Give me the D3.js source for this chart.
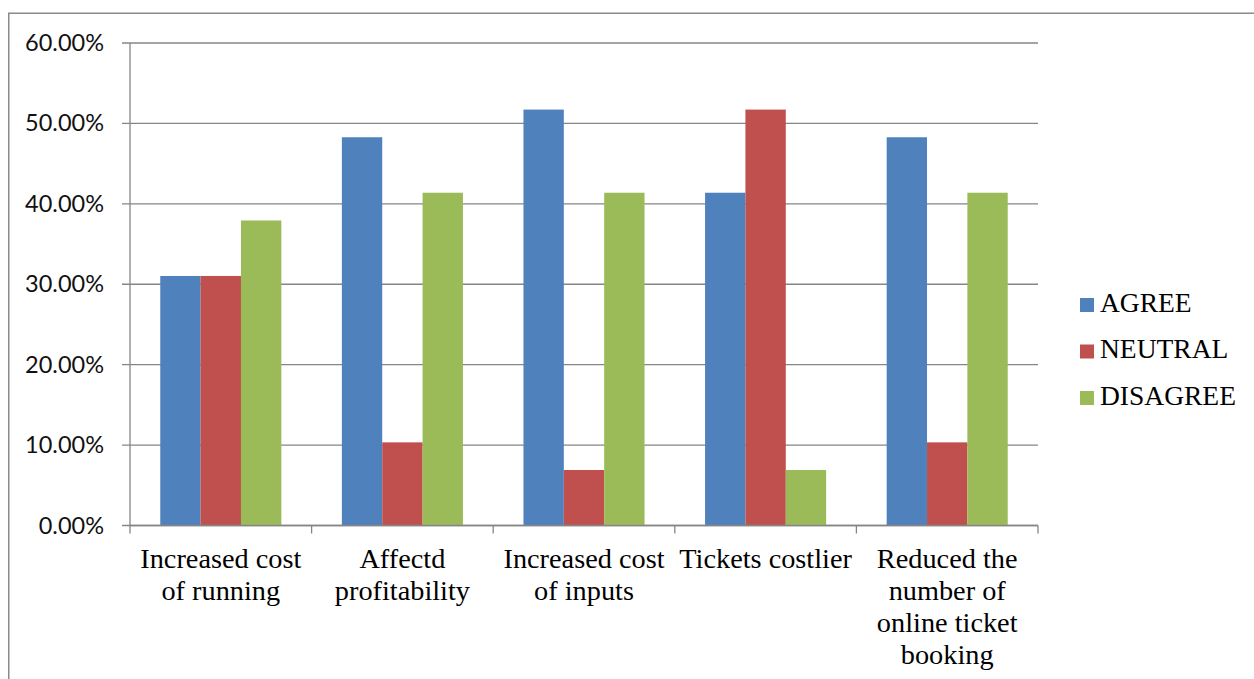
<!DOCTYPE html>
<html>
<head>
<meta charset="utf-8">
<script src="https://cdn.jsdelivr.net/npm/d3@7/dist/d3.min.js"></script>
<style>
  html, body { margin: 0; padding: 0; background: #fff; }
  svg { display: block; }
</style>
</head>
<body>
<svg id="chart" width="1254" height="679"></svg>
<script>
// Survey responses per impact statement (share of respondents)
const categories = [
  ["Increased cost", "of running"],
  ["Affectd", "profitability"],
  ["Increased cost", "of inputs"],
  ["Tickets costlier"],
  ["Reduced the", "number of", "online ticket", "booking"]
];
const seriesNames = ["AGREE", "NEUTRAL", "DISAGREE"];
const agree    = [31.03, 48.28, 51.72, 41.38, 48.28];
const neutral  = [31.03, 10.34, 6.90, 51.72, 10.34];
const disagree = [37.93, 41.38, 41.38, 6.90, 41.38];
const yTicks   = [0, 10, 20, 30, 40, 50, 60];

const seriesValues = [agree, neutral, disagree];
const colors = ["#4F81BD", "#C0504D", "#9BBB59"];
const gridColor = "#868686";

const svg = d3.select("#chart");

// Outer chart frame
svg.append("rect")
  .attr("x", 8.75).attr("y", 13.25)
  .attr("width", 1300).attr("height", 700)
  .attr("fill", "none").attr("stroke", "#8a8a8a").attr("stroke-width", 1.5);

const plot = { left: 130, right: 1038, top: 43, bottom: 525.5 };

const x0 = d3.scaleBand()
  .domain(d3.range(categories.length))
  .range([plot.left, plot.right])
  .paddingInner(0).paddingOuter(0);

const x1 = d3.scaleBand()
  .domain(d3.range(seriesNames.length))
  .range([0, x0.bandwidth()])
  .paddingOuter(0.75).paddingInner(0);

const y = d3.scaleLinear().domain([0, 60]).range([plot.bottom, plot.top]);

// Horizontal gridlines and y ticks
const yAxis = svg.append("g");
yAxis.selectAll("line.grid").data(yTicks).join("line")
  .attr("class", "grid")
  .attr("x1", plot.left - 8).attr("x2", plot.right)
  .attr("y1", d => y(d)).attr("y2", d => y(d))
  .attr("stroke", gridColor).attr("stroke-width", 1.3);

yAxis.selectAll("text").data(yTicks).join("text")
  .attr("x", 104).attr("y", d => y(d) + 8)
  .attr("text-anchor", "end")
  .attr("font-family", "Lato, 'Open Sans', sans-serif")
  .attr("font-size", 23.5)
  .attr("fill", "#111")
  .text(d => d3.format(".2f")(d) + "%");

// Vertical axis line
svg.append("line")
  .attr("x1", plot.left).attr("x2", plot.left)
  .attr("y1", plot.top).attr("y2", plot.bottom)
  .attr("stroke", gridColor).attr("stroke-width", 1.3);

// Bars
const groups = svg.append("g").selectAll("g").data(categories).join("g")
  .attr("transform", (d, i) => `translate(${x0(i)},0)`);

groups.selectAll("rect")
  .data((d, i) => seriesValues.map((vals, s) => ({ s, v: vals[i] })))
  .join("rect")
  .attr("x", d => x1(d.s))
  .attr("width", x1.bandwidth())
  .attr("y", d => y(d.v))
  .attr("height", d => y(0) - y(d.v))
  .attr("fill", d => colors[d.s]);

// Category axis line and tick marks
svg.append("line")
  .attr("x1", plot.left).attr("x2", plot.right)
  .attr("y1", plot.bottom).attr("y2", plot.bottom)
  .attr("stroke", gridColor).attr("stroke-width", 1.3);

const boundaries = d3.range(categories.length + 1).map(i =>
  i < categories.length ? x0(i) : plot.right);
svg.append("g").selectAll("line").data(boundaries).join("line")
  .attr("x1", d => d).attr("x2", d => d)
  .attr("y1", plot.bottom).attr("y2", plot.bottom + 8)
  .attr("stroke", gridColor).attr("stroke-width", 1.3);

// Category labels
const catLabels = svg.append("g").selectAll("text").data(categories).join("text")
  .attr("text-anchor", "middle")
  .attr("font-family", "'Liberation Serif', 'Times New Roman', serif")
  .attr("font-size", 28.3)
  .attr("fill", "#000");
catLabels.each(function (lines, i) {
  const t = d3.select(this);
  lines.forEach((ln, k) => {
    t.append("tspan")
      .attr("x", x0(i) + x0.bandwidth() / 2)
      .attr("y", 567.5 + k * 32)
      .text(ln);
  });
});

// Legend
const legend = svg.append("g").selectAll("g").data(seriesNames).join("g")
  .attr("transform", (d, i) => `translate(1080,${298 + i * 46.5})`);
legend.append("rect")
  .attr("width", 14).attr("height", 14)
  .attr("fill", (d, i) => colors[i]);
legend.append("text")
  .attr("x", 20).attr("y", 13.5)
  .attr("font-family", "'Liberation Serif', 'Times New Roman', serif")
  .attr("font-size", 27.5)
  .attr("fill", "#000")
  .text(d => d);
</script>
</body>
</html>
